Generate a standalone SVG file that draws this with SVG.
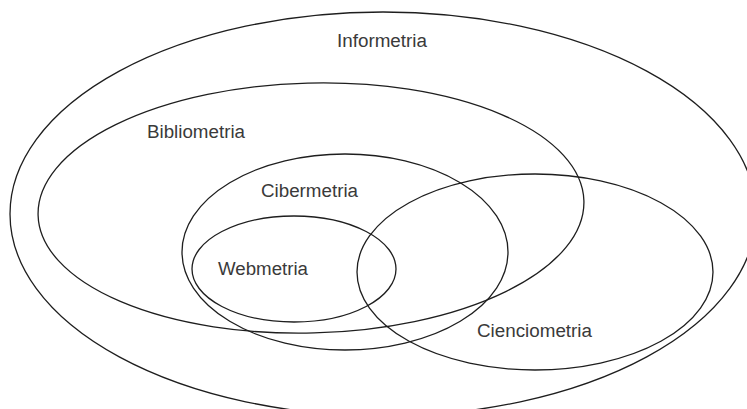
<svg xmlns="http://www.w3.org/2000/svg" width="747" height="409" viewBox="0 0 747 409">
  <style>
    .set { fill: none; stroke: #1e1e1e; stroke-width: 1.3; }
    .lbl { font-family: "Liberation Sans", Arial, sans-serif; font-size: 18px; fill: #3a3a3a; }
  </style>
  <rect x="0" y="0" width="747" height="409" fill="#ffffff"/>
  <g id="informetria">
    <ellipse class="set" cx="383" cy="214" rx="373" ry="202"/>
    <text class="lbl" x="337" y="47" textLength="90" lengthAdjust="spacingAndGlyphs">Informetria</text>
  </g>
  <g id="bibliometria">
    <ellipse class="set" cx="311" cy="208" rx="273" ry="125" transform="rotate(-1.5 311 208)"/>
    <text class="lbl" x="147" y="138" textLength="98" lengthAdjust="spacingAndGlyphs">Bibliometria</text>
  </g>
  <g id="cibermetria">
    <ellipse class="set" cx="345" cy="252" rx="163" ry="98"/>
    <text class="lbl" x="261" y="197" textLength="97" lengthAdjust="spacingAndGlyphs">Cibermetria</text>
  </g>
  <g id="webmetria">
    <ellipse class="set" cx="294" cy="269" rx="102" ry="53"/>
    <text class="lbl" x="218" y="275" textLength="90" lengthAdjust="spacingAndGlyphs">Webmetria</text>
  </g>
  <g id="cienciometria">
    <ellipse class="set" cx="535" cy="272" rx="178" ry="98"/>
    <text class="lbl" x="477" y="337" textLength="115" lengthAdjust="spacingAndGlyphs">Cienciometria</text>
  </g>
  <g id="connectors"/>
</svg>
